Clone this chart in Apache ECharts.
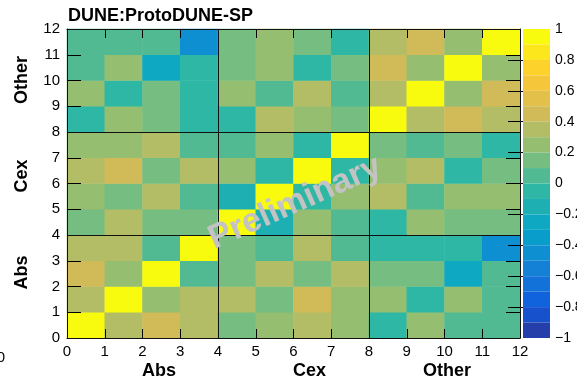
<!DOCTYPE html>
<html><head><meta charset="utf-8">
<script src="https://cdn.jsdelivr.net/npm/echarts@6/dist/echarts.min.js"></script>
<style>html,body{margin:0;padding:0;background:#fff}#c{width:577px;height:378px}</style>
</head><body><div id="c"></div>
<script>
// ---- data ----
const binLabels = ['0','1','2','3','4','5','6','7','8','9','10','11'];
const groupNames = ['Abs','Cex','Other'];
const colorbarTickValues = [-0.8,-0.6,-0.4,-0.2,0,0.2,0.4,0.6,0.8];
const titleText = 'DUNE:ProtoDUNE-SP';
const watermarkText = 'Preliminary';
// rows[j][i] : correlation for y-bin j (bottom = 0), x-bin i
const rows = [
  [ 1.00, 0.35, 0.45, 0.35, 0.15, 0.25, 0.35, 0.25,-0.05, 0.25, 0.05, 0.05],
  [ 0.35, 1.00, 0.25, 0.35, 0.35, 0.15, 0.45, 0.25, 0.25,-0.05, 0.25, 0.05],
  [ 0.45, 0.25, 1.00, 0.05, 0.15, 0.35, 0.15, 0.35, 0.15, 0.15,-0.25, 0.05],
  [ 0.35, 0.35, 0.05, 1.00, 0.15, 0.05, 0.35, 0.05,-0.05,-0.05,-0.05,-0.45],
  [ 0.15, 0.35, 0.15, 0.15, 1.00,-0.15, 0.25, 0.05,-0.05, 0.25, 0.15, 0.15],
  [ 0.25, 0.15, 0.35, 0.05,-0.15, 1.00,-0.05, 0.25, 0.35, 0.05, 0.25, 0.25],
  [ 0.35, 0.45, 0.15, 0.35, 0.25,-0.05, 1.00,-0.05, 0.25, 0.35,-0.05, 0.15],
  [ 0.25, 0.25, 0.35, 0.05, 0.05, 0.25,-0.05, 1.00, 0.15, 0.05, 0.15,-0.05],
  [-0.05, 0.25, 0.15,-0.05,-0.05, 0.35, 0.25, 0.15, 1.00, 0.35, 0.45, 0.35],
  [ 0.25,-0.05, 0.15,-0.05, 0.25, 0.05, 0.35, 0.05, 0.35, 1.00, 0.25, 0.45],
  [ 0.05, 0.25,-0.25,-0.05, 0.15, 0.25,-0.05, 0.15, 0.45, 0.25, 1.00, 0.25],
  [ 0.05, 0.05, 0.05,-0.45, 0.15, 0.25, 0.15,-0.05, 0.35, 0.45, 0.25, 1.00]
];

// ---- palette (ROOT kBird) ----
const birdPos = [0,0.125,0.25,0.375,0.5,0.625,0.75,0.875,1];
const birdR = [0.2082,0.0592,0.0780,0.0232,0.1802,0.5301,0.8186,0.9956,0.9764];
const birdG = [0.1664,0.3599,0.5041,0.6419,0.7178,0.7492,0.7328,0.7862,0.9832];
const birdB = [0.5293,0.8684,0.8385,0.7914,0.6425,0.4662,0.3499,0.1968,0.0539];
function bird(p){
  let k=0; while(k<birdPos.length-2 && p>birdPos[k+1]) k++;
  const t=(p-birdPos[k])/(birdPos[k+1]-birdPos[k]);
  const c=a=>Math.round(255*(a[k]+t*(a[k+1]-a[k])));
  return 'rgb('+c(birdR)+','+c(birdG)+','+c(birdB)+')';
}
const nLevels = 20;
const pieces = [];
for (let i=0;i<nLevels;i++){
  const lo = Math.round((-1 + i*2/nLevels)*100)/100;
  const hi = Math.round((lo + 2/nLevels)*100)/100;
  const pc = {gte: lo, color: bird((i+1)/nLevels)};
  if (i===nLevels-1) pc.lte = hi; else pc.lt = hi;
  pieces.push(pc);
}

const heatData = [];
rows.forEach((r,j)=>r.forEach((v,i)=>heatData.push([i,j,v])));

const FF = '"Liberation Sans", Arial, Helvetica, sans-serif';
const black = '#000';

function frameAxis(pos, labels, tickLen){
  return {type:'value', gridIndex:0, min:0, max:12, interval:1, position:pos, z:10,
    axisLine:{show:true, onZero:false, lineStyle:{color:black, width:1}},
    axisTick:{show:true, inside:true, length:tickLen, lineStyle:{color:black, width:1}},
    axisLabel:{show:labels, margin: pos==='bottom'?6:7, fontSize:15, color:black, fontFamily:FF},
    splitLine:{show:false}};
}
function groupAxis(pos){
  return {type:'category', gridIndex:0, data:groupNames, position:pos, z:11,
    axisLine:{show:false}, axisTick:{show:false}, axisLabel:{show:false},
    splitLine:{show:true, lineStyle:{color:'#111', width:1}}};
}

const chart = echarts.init(document.getElementById('c'), null, {renderer:'canvas'});
chart.setOption({
  animation:false,
  backgroundColor:'#fff',
  grid:[
    {left:67, top:29, width:453, height:309, containLabel:false, outerBoundsMode:'none'},
    {left:523, top:29, width:27, height:309, containLabel:false, outerBoundsMode:'none'}
  ],
  xAxis:[
    {type:'category', gridIndex:0, data:binLabels, show:false, boundaryGap:true},
    frameAxis('bottom', true, 9),
    frameAxis('top', false, 9),
    groupAxis('bottom'),
    {type:'value', gridIndex:1, show:false, min:0, max:1}
  ],
  yAxis:[
    {type:'category', gridIndex:0, data:binLabels, show:false, boundaryGap:true},
    frameAxis('left', true, 14),
    frameAxis('right', false, 14),
    groupAxis('left'),
    {type:'value', gridIndex:1, min:-1, max:1, interval:0.2, position:'right', z:10,
      axisLine:{show:false},
      axisTick:{show:true, inside:true, length:15, customValues:colorbarTickValues, lineStyle:{color:black, width:1}},
      axisLabel:{show:true, margin:5, fontSize:14, color:black, fontFamily:FF,
        formatter:v=>{const a=Math.round(Math.abs(v)*10)/10; return (v< -1e-9?'\u2212':'')+a;}},
      splitLine:{show:false}}
  ],
  visualMap:{
    type:'piecewise', pieces:pieces, seriesIndex:0, orient:'vertical',
    left:523, top:29, itemWidth:27, itemHeight:309/nLevels, itemGap:0,
    itemSymbol:'rect', showLabel:false, padding:0, hoverLink:false, selectedMode:false,
    textStyle:{fontSize:0}
  },
  series:[{
    type:'heatmap', xAxisIndex:0, yAxisIndex:0, data:heatData,
    itemStyle:{borderWidth:0}, emphasis:{disabled:true}, progressive:0
  }],
  graphic:[
    {type:'text', x:68, y:16.5, z:100, style:{text:titleText, fontSize:18, fontWeight:'bold', fontFamily:FF, fill:black, align:'left', verticalAlign:'middle'}},
    {type:'text', x:142, y:371, z:100, style:{text:groupNames[0], fontSize:18, fontWeight:'bold', fontFamily:FF, fill:black, align:'left', verticalAlign:'middle'}},
    {type:'text', x:293, y:371, z:100, style:{text:groupNames[1], fontSize:18, fontWeight:'bold', fontFamily:FF, fill:black, align:'left', verticalAlign:'middle'}},
    {type:'text', x:447, y:371, z:100, style:{text:groupNames[2], fontSize:18, fontWeight:'bold', fontFamily:FF, fill:black, align:'center', verticalAlign:'middle'}},
    {type:'text', x:22.5, y:272.5, rotation:Math.PI/2, z:100, style:{text:groupNames[0], fontSize:18, fontWeight:'bold', fontFamily:FF, fill:black, align:'center', verticalAlign:'middle'}},
    {type:'text', x:22.5, y:176, rotation:Math.PI/2, z:100, style:{text:groupNames[1], fontSize:18, fontWeight:'bold', fontFamily:FF, fill:black, align:'center', verticalAlign:'middle'}},
    {type:'text', x:22.5, y:80, rotation:Math.PI/2, z:100, style:{text:groupNames[2], fontSize:18, fontWeight:'bold', fontFamily:FF, fill:black, align:'center', verticalAlign:'middle'}},
    {type:'text', x:1, y:358, z:100, style:{text:'0', fontSize:15, fontFamily:FF, fill:black, align:'center', verticalAlign:'middle'}},
    {type:'text', x:295, y:203, rotation:24*Math.PI/180, z:100, style:{text:watermarkText, fontSize:34, fontWeight:'bold', fontFamily:FF, fill:'#c3c3c3', align:'center', verticalAlign:'middle'}}
  ]
});
</script></body></html>
